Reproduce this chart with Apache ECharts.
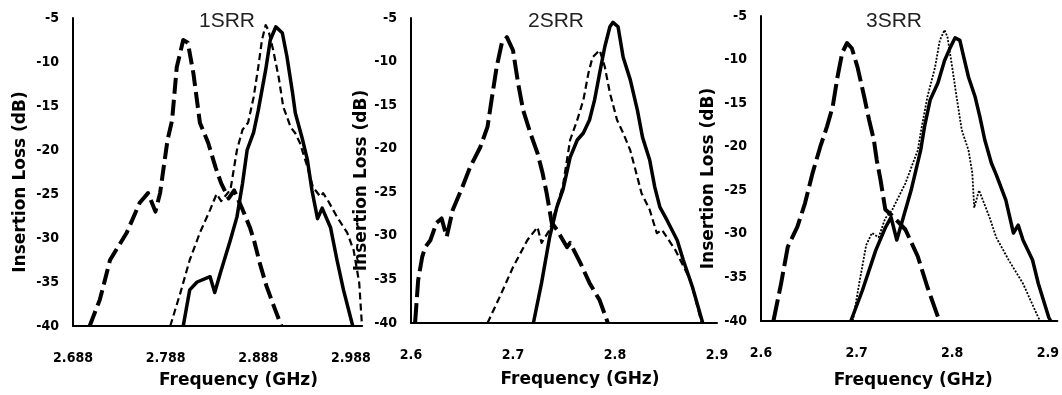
<!DOCTYPE html>
<html>
<head>
<meta charset="utf-8">
<script src="https://cdn.jsdelivr.net/npm/echarts@6/dist/echarts.min.js"></script>
<style>
  html, body { margin: 0; padding: 0; background: #fff; }
  #chart { width: 1062px; height: 395px; }
</style>
</head>
<body>
<div id="chart"></div>
<script>
// [frequency GHz, insertion loss dB]
const panelTitles = ["1SRR", "2SRR", "3SRR"];

const srr1Long = [[2.706,-40],[2.717,-37.0],[2.728,-32.5],[2.746,-29.4],[2.760,-26.0],[2.769,-24.9],[2.777,-27.0],[2.782,-24.9],[2.790,-18.9],[2.795,-16.6],[2.800,-10.6],[2.807,-7.5],[2.812,-7.8],[2.818,-11.3],[2.825,-16.9],[2.834,-19.2],[2.842,-22.0],[2.848,-23.8],[2.856,-25.5],[2.862,-24.6],[2.870,-26.5],[2.879,-28.8],[2.884,-30.5],[2.890,-33.0],[2.897,-35.5],[2.905,-37.8],[2.913,-40]];
const srr1Solid = [[2.807,-40],[2.814,-35.9],[2.822,-35.0],[2.836,-34.4],[2.841,-36.2],[2.847,-34.0],[2.858,-30.2],[2.865,-27.6],[2.871,-23.8],[2.876,-20.0],[2.883,-18.0],[2.888,-15.5],[2.896,-10.9],[2.901,-7.5],[2.907,-6.0],[2.914,-6.7],[2.919,-9.4],[2.925,-13.5],[2.928,-15.8],[2.936,-18.9],[2.941,-21.1],[2.946,-24.6],[2.952,-27.8],[2.957,-26.6],[2.966,-28.8],[2.973,-32.5],[2.980,-35.9],[2.990,-40]];
const srr1Short = [[2.793,-40],[2.804,-36.2],[2.814,-32.5],[2.825,-29.4],[2.836,-26.8],[2.843,-25.0],[2.848,-25.8],[2.858,-24.5],[2.865,-20.0],[2.871,-17.7],[2.877,-16.9],[2.883,-14.0],[2.888,-10.6],[2.892,-7.5],[2.896,-5.8],[2.899,-6.4],[2.904,-8.6],[2.910,-11.7],[2.915,-15.1],[2.923,-17.4],[2.928,-18.1],[2.933,-19.2],[2.941,-21.9],[2.947,-24.2],[2.955,-25.3],[2.958,-24.9],[2.963,-25.7],[2.973,-27.6],[2.984,-29.4],[2.991,-31.4],[2.997,-35.1],[3.0,-40]];

const srr2Long = [[2.604,-40],[2.607,-35.1],[2.611,-32.4],[2.614,-31.3],[2.619,-30.5],[2.625,-28.5],[2.630,-28.0],[2.635,-30.1],[2.641,-27.0],[2.650,-24.5],[2.658,-22.1],[2.668,-19.8],[2.675,-17.5],[2.679,-14.4],[2.684,-10.6],[2.689,-7.9],[2.694,-7.2],[2.700,-8.7],[2.705,-12.5],[2.710,-15.6],[2.717,-18.2],[2.724,-20.5],[2.729,-22.8],[2.733,-25.1],[2.738,-28.5],[2.743,-29.3],[2.753,-31.3],[2.756,-30.8],[2.766,-33.1],[2.775,-35.4],[2.785,-37.4],[2.793,-40]];
const srr2Solid = [[2.720,-40],[2.728,-35.4],[2.736,-30.1],[2.743,-26.7],[2.749,-24.7],[2.756,-21.0],[2.763,-19.0],[2.769,-18.2],[2.775,-16.7],[2.780,-14.4],[2.785,-11.3],[2.790,-8.3],[2.795,-6.0],[2.798,-5.5],[2.803,-6.0],[2.808,-9.5],[2.815,-12.1],[2.822,-15.6],[2.827,-18.7],[2.834,-21.3],[2.839,-24.4],[2.844,-26.7],[2.851,-28.2],[2.861,-30.5],[2.867,-32.8],[2.876,-35.9],[2.886,-40]];
const srr2Short = [[2.675,-40],[2.687,-37.0],[2.700,-33.6],[2.714,-30.5],[2.724,-29.0],[2.728,-30.8],[2.736,-29.3],[2.744,-26.2],[2.749,-24.2],[2.756,-19.0],[2.763,-16.7],[2.769,-14.4],[2.774,-11.3],[2.778,-9.5],[2.785,-8.7],[2.790,-10.6],[2.795,-13.6],[2.802,-16.7],[2.808,-18.2],[2.815,-20.2],[2.822,-23.3],[2.826,-25.1],[2.834,-27.0],[2.841,-29.7],[2.846,-29.3],[2.859,-31.6],[2.874,-35.1],[2.885,-40]];

const srr3Long = [[2.613,-40],[2.621,-35.7],[2.628,-31.5],[2.638,-29.2],[2.646,-26.5],[2.654,-23.0],[2.662,-20.0],[2.669,-17.7],[2.675,-15.4],[2.680,-12.0],[2.685,-9.2],[2.690,-8.1],[2.695,-8.7],[2.701,-10.9],[2.708,-14.3],[2.713,-16.9],[2.718,-19.2],[2.721,-21.5],[2.725,-23.8],[2.730,-27.2],[2.738,-28.0],[2.751,-29.5],[2.764,-32.6],[2.774,-36.1],[2.785,-39.5],[2.787,-40]];
const srr3Solid = [[2.694,-40],[2.706,-36.5],[2.720,-31.9],[2.730,-29.3],[2.736,-28.1],[2.742,-30.7],[2.747,-28.8],[2.757,-25.0],[2.767,-20.4],[2.771,-17.7],[2.777,-14.6],[2.785,-12.7],[2.792,-10.1],[2.798,-8.6],[2.803,-7.5],[2.808,-7.8],[2.812,-9.7],[2.817,-12.0],[2.824,-14.3],[2.829,-16.6],[2.834,-19.2],[2.841,-21.9],[2.846,-23.2],[2.856,-26.1],[2.864,-29.9],[2.869,-29.0],[2.874,-30.7],[2.884,-33.0],[2.890,-35.7],[2.901,-39.6],[2.903,-40]];
const srr3Dot = [[2.696,-40],[2.703,-35.5],[2.710,-31.3],[2.716,-29.9],[2.723,-30.4],[2.730,-28.2],[2.737,-27.3],[2.751,-24.2],[2.764,-20.4],[2.767,-18.4],[2.774,-14.3],[2.782,-10.9],[2.787,-7.8],[2.792,-6.6],[2.795,-7.4],[2.800,-10.9],[2.805,-14.6],[2.810,-18.1],[2.817,-20.4],[2.821,-23.0],[2.823,-27.0],[2.828,-25.0],[2.839,-28.1],[2.846,-30.4],[2.859,-33.0],[2.874,-35.7],[2.890,-39.6],[2.892,-40]];

const xRanges = [[2.688, 3.0, 3], [2.6, 2.9, 1], [2.6, 2.91, 1]];

const grids = [
  { left: 73, top: 18, width: 289, height: 308 },
  { left: 411, top: 18, width: 306, height: 305 },
  { left: 761, top: 16, width: 301, height: 305 }
];
const titleX = [227, 556, 894];
const yNameGap = [44, 39, 44];
const xNameGap = [46, 48, 51];
const xNameShift = [42, 32, 8];

const tickFont = { color: "#000", fontFamily: "DejaVu Sans Condensed", fontWeight: "bold", fontSize: 14 };
const nameFont = { color: "#000", fontFamily: "DejaVu Sans", fontWeight: "bold", fontSize: 17 };
const axisLine = { show: true, lineStyle: { color: "#000", width: 2 } };

const chart = echarts.init(document.getElementById("chart"), null, { renderer: "canvas" });

const line = (data, i, style) => ({
  type: "line", data, xAxisIndex: i, yAxisIndex: i,
  symbol: "none", smooth: false, silent: true, animation: false,
  lineStyle: Object.assign({ color: "#000", cap: "butt", join: "round" }, style)
});

chart.setOption({
  animation: false,
  backgroundColor: "#fff",
  title: panelTitles.map((t, i) => ({
    text: t, left: titleX[i], top: 11, textAlign: "center", padding: 0,
    textStyle: { color: "#222", fontFamily: "Liberation Sans", fontWeight: "normal", fontSize: 21 }
  })),
  grid: grids,
  xAxis: xRanges.map((r, i) => ({
    type: "value", gridIndex: i, min: r[0], max: r[1], interval: 0.1,
    axisLine, axisTick: { show: false }, splitLine: { show: false },
    axisLabel: Object.assign({}, tickFont, {
      margin: 25, showMinLabel: true, showMaxLabel: i === 1,
      formatter: (v) => v.toFixed(r[2])
    }),
    name: "Frequency (GHz)", nameLocation: "middle", nameGap: xNameGap[i],
    nameTextStyle: Object.assign({}, nameFont, { padding: [0, 0, 0, xNameShift[i]] })
  })),
  yAxis: grids.map((g, i) => ({
    type: "value", gridIndex: i, min: -40, max: -5, interval: 5,
    axisLine, axisTick: { show: false }, splitLine: { show: false },
    axisLabel: Object.assign({}, tickFont, { margin: 14 }),
    name: "Insertion Loss (dB)", nameLocation: "middle", nameGap: yNameGap[i],
    nameTextStyle: Object.assign({}, nameFont, { padding: [0, 20, 0, 0] })
  })),
  series: [
    line(srr1Long, 0, { width: 4, type: [16, 6] }),
    line(srr1Solid, 0, { width: 3.5 }),
    line(srr1Short, 0, { width: 2.2, type: [7, 4] }),
    line(srr2Long, 1, { width: 4, type: [20, 6] }),
    line(srr2Solid, 1, { width: 3.5 }),
    line(srr2Short, 1, { width: 2.2, type: [7, 4] }),
    line(srr3Long, 2, { width: 4, type: [22, 6] }),
    line(srr3Solid, 2, { width: 3.5 }),
    line(srr3Dot, 2, { width: 1.8, type: [2, 1.5] })
  ]
});
</script>
</body>
</html>
